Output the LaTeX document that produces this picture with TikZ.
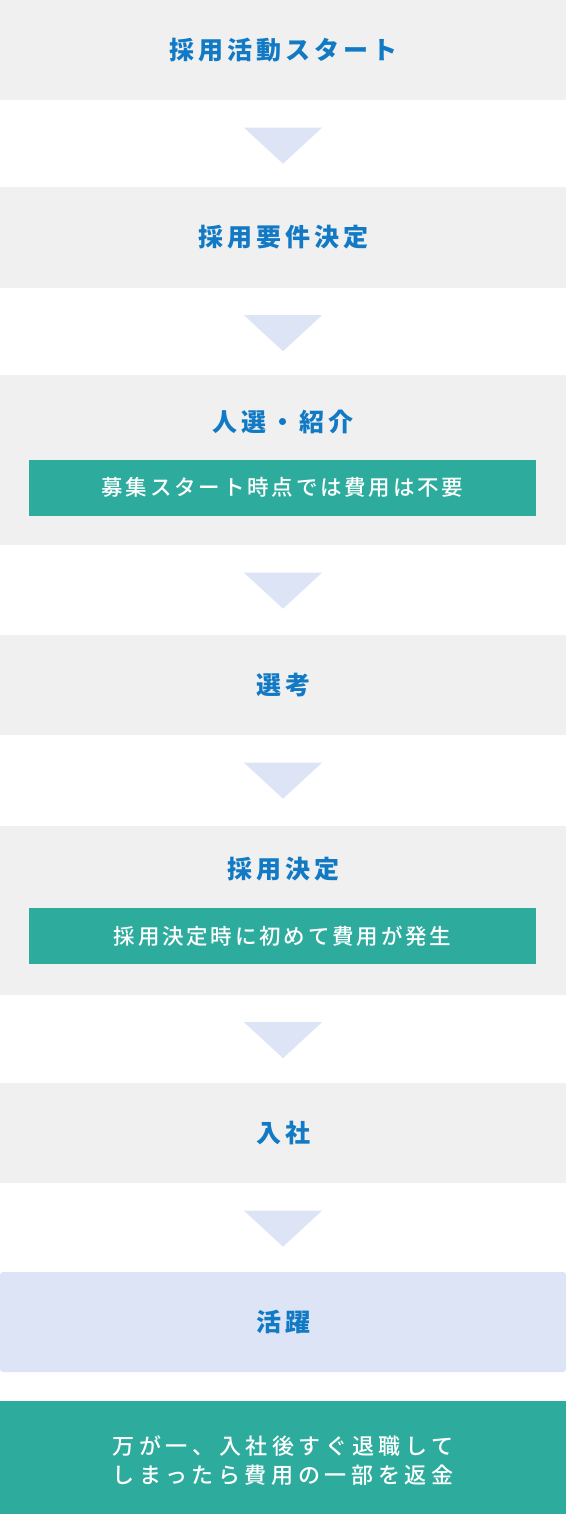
\documentclass[tikz,border=0pt]{standalone}
\usepackage{fontspec}
\setmainfont{Noto Sans CJK JP}
\newfontfamily\headfont[LetterSpace=16]{Noto Sans CJK JP}
\newfontfamily\bandfont[LetterSpace=13, UprightFont={* Medium}]{Noto Sans CJK JP}
\newfontfamily\notefont[LetterSpace=21, UprightFont={* Medium}]{Noto Sans CJK JP}
\usepackage{tikz}
\usetikzlibrary{positioning}

\definecolor{boxgray}{RGB}{240,240,240}
\definecolor{headblue}{RGB}{18,122,196}
\definecolor{bandgreen}{RGB}{45,172,158}
\definecolor{palblue}{RGB}{220,228,245}

\tikzset{
  stepbox/.style={fill=boxgray, minimum width=566pt, minimum height=100pt, inner sep=0pt},
  steptitle/.style={text=headblue, inner sep=0pt, font=\headfont\bfseries\fontsize{25}{29}\selectfont},
  costband/.style={fill=bandgreen, text=white, minimum width=507pt, minimum height=56pt, inner sep=0pt,
    font=\bandfont\fontsize{21.5}{25}\selectfont},
  downtri/.style={fill=palblue}
}

\begin{document}
\begin{tikzpicture}[x=1pt, y=-1pt]
  \useasboundingbox (0,0) rectangle (566,1514);

  % flow steps
  \node[stepbox] (s1) at (283,50) {};
  \node[steptitle] (t1) at (s1) {採用活動スタート};
  \node[stepbox] (s2) at (283,237.5) {};
  \node[steptitle] (t2) at (s2) {採用要件決定};
  \node[stepbox, minimum height=170pt] (s3) at (283,460) {};
  \node[steptitle] (t3) at ([yshift=-47pt]s3.north) {人選・紹介};
  \node[costband] (c3) at ([xshift=-0.5pt, yshift=-113pt]s3.north) {募集スタート時点では費用は不要};
  \node[stepbox] (s4) at (283,685) {};
  \node[steptitle] (t4) at (s4) {選考};
  \node[stepbox, minimum height=169pt] (s5) at (283,910) {};
  \node[steptitle] (t5) at ([yshift=-44pt]s5.north) {採用決定};
  \node[costband] (c5) at ([xshift=-0.5pt, yshift=-111pt]s5.north) {採用決定時に初めて費用が発生};
  \node[stepbox] (s6) at (283,1133) {};
  \node[steptitle] (t6) at (s6) {入社};
  \node[stepbox, fill=palblue, rounded corners=3pt] (s7) at (283,1322) {};
  \node[steptitle] (t7) at (s7) {活躍};

  % refund note
  \node[fill=bandgreen, minimum width=566pt, minimum height=113pt, inner sep=0pt] (note) at (283,1457.5) {};
  \node[text=white, align=center, inner sep=0pt, font=\notefont\fontsize{22}{29}\selectfont]
    (notetext) at ([yshift=-3.5pt]note.center) {万が一、入社後すぐ退職して\\しまったら費用の一部を返金};

  % triangles between steps
  \fill[downtri] ([yshift=-27.5pt]s1.south) +(-39pt,0) -- +(39pt,0) -- +(0,-36pt) -- cycle;
  \fill[downtri] ([yshift=-27.5pt]s2.south) +(-39pt,0) -- +(39pt,0) -- +(0,-36pt) -- cycle;
  \fill[downtri] ([yshift=-27.5pt]s3.south) +(-39pt,0) -- +(39pt,0) -- +(0,-36pt) -- cycle;
  \fill[downtri] ([yshift=-27.5pt]s4.south) +(-39pt,0) -- +(39pt,0) -- +(0,-36pt) -- cycle;
  \fill[downtri] ([yshift=-27.5pt]s5.south) +(-39pt,0) -- +(39pt,0) -- +(0,-36pt) -- cycle;
  \fill[downtri] ([yshift=-27.5pt]s6.south) +(-39pt,0) -- +(39pt,0) -- +(0,-36pt) -- cycle;
\end{tikzpicture}
\end{document}
